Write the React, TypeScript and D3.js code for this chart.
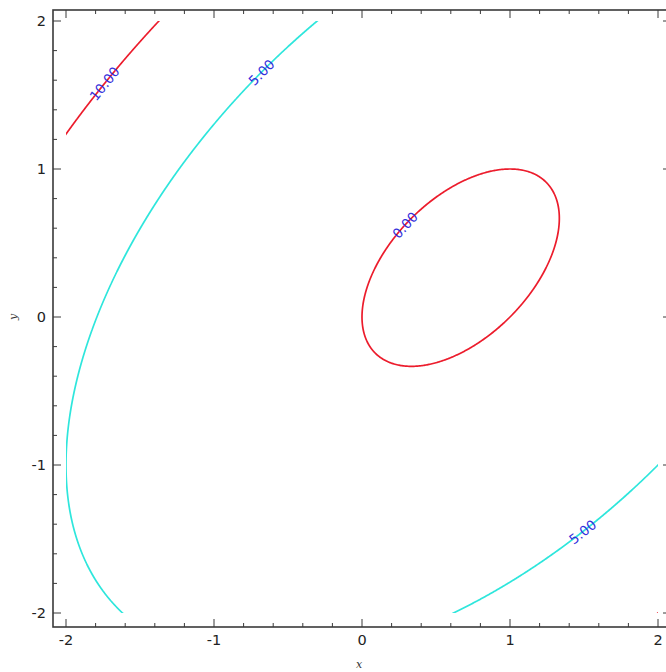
import React, { useMemo } from 'react'
import * as d3 from 'd3'

// contour levels of f(x, y) = x^2 - x*y + y^2 - x
const levels = [0, 5, 10]
const levelColors = ['#ec1c2c', '#2ee6dc', '#ec1c2c']
const xTicks = [-2, -1, 0, 1, 2]
const yTicks = [-2, -1, 0, 1, 2]
// inline labels: which level, at which x, upper (+1) or lower (-1) branch
const labelLevel = [10, 5, 0, 5]
const labelX = [-1.74, -0.68, 0.29, 1.49]
const labelBranch = [1, 1, 1, -1]

const f = (x: number, y: number) => x * x - x * y + y * y - x

const W = 666, H = 672
const frame = { left: 53, top: 10, right: 671, bottom: 627 }

export default function App() {
  const xScale = d3.scaleLinear().domain([-2, 2]).range([66, 658])
  const yScale = d3.scaleLinear().domain([-2, 2]).range([613, 21])

  const paths = useMemo(() => {
    // sample the function on a pixel grid a bit larger than the plot area
    const x0 = 40, y0 = 0, q = 1, n = 640, m = 640
    const values = new Float64Array(n * m)
    for (let j = 0; j < m; ++j) {
      for (let i = 0; i < n; ++i) {
        values[j * n + i] = f(xScale.invert(x0 + i * q), yScale.invert(y0 + j * q))
      }
    }
    const contours = d3.contours().size([n, m]).thresholds(levels)(values as any)
    const path = d3.geoPath(d3.geoTransform({
      point(x: number, y: number) {
        this.stream.point(x0 + (x - 0.5) * q, y0 + (y - 0.5) * q)
      }
    }))
    return contours.map(c => ({ value: c.value, d: path(c as any) || '' }))
  }, [])

  const labels = labelX.map((x, i) => {
    const L = labelLevel[i]
    // y solving y^2 - x*y + (x^2 - x - L) = 0
    const disc = x * x - 4 * (x * x - x - L)
    const y = (x + labelBranch[i] * Math.sqrt(disc)) / 2
    const h = 1e-4
    const fx = (f(x + h, y) - f(x - h, y)) / (2 * h)
    const fy = (f(x, y + h) - f(x, y - h)) / (2 * h)
    let a = Math.atan2(fx, fy) * 180 / Math.PI
    if (a > 90) a -= 180
    if (a < -90) a += 180
    return { x: xScale(x), y: yScale(y), a, text: L.toFixed(2) }
  })

  const minor = d3.range(-10, 11).map(d => d / 5)
  const font = '"DejaVu Sans", sans-serif'

  return (
    <svg width={W} height={H} style={{ position: 'absolute', left: 0, top: 0, background: '#fff' }}>
      <defs>
        <clipPath id="plotClip">
          <rect x={66} y={21} width={592} height={592} />
        </clipPath>
      </defs>
      <g clipPath="url(#plotClip)">
        {paths.map((p, i) => (
          <path key={i} d={p.d} fill="none" stroke={levelColors[levels.indexOf(p.value)]} strokeWidth={1.7} />
        ))}
      </g>
      {labels.map((l, i) => (
        <text key={i} transform={`translate(${l.x},${l.y}) rotate(${l.a})`} textAnchor="middle"
          dominantBaseline="central" fontFamily={font} fontSize={13.5} fill="#3430dc">{l.text}</text>
      ))}

      {/* frame */}
      <rect x={frame.left} y={frame.top} width={frame.right - frame.left} height={frame.bottom - frame.top}
        fill="none" stroke="#3a3a3a" strokeWidth={1.6} />

      {/* ticks, all pointing inward */}
      {minor.map((v, i) => {
        const major = Number.isInteger(v)
        const len = major ? 8 : 4
        const xs = xScale(v), ys = yScale(v)
        return (
          <g key={i} stroke="#3a3a3a" strokeWidth={1}>
            <line x1={xs} x2={xs} y1={frame.bottom} y2={frame.bottom - len} />
            <line x1={xs} x2={xs} y1={frame.top} y2={frame.top + len} />
            <line y1={ys} y2={ys} x1={frame.left} x2={frame.left + len} />
            <line y1={ys} y2={ys} x1={frame.right} x2={frame.right - len} />
          </g>
        )
      })}

      {xTicks.map(v => (
        <text key={'x' + v} x={xScale(v)} y={645} textAnchor="middle" fontFamily={font} fontSize={14.5} fill="#222">{v}</text>
      ))}
      {yTicks.map(v => (
        <text key={'y' + v} x={46} y={yScale(v)} textAnchor="end" dominantBaseline="central" fontFamily={font} fontSize={14.5} fill="#222">{v}</text>
      ))}

      <text x={359} y={668} textAnchor="middle" fontFamily='"DejaVu Serif", serif' fontStyle="italic" fontSize={11} fill="#333">x</text>
      <text transform={`translate(17,317) rotate(-90)`} textAnchor="middle" fontFamily='"DejaVu Serif", serif' fontStyle="italic" fontSize={11} fill="#333">y</text>
    </svg>
  )
}
